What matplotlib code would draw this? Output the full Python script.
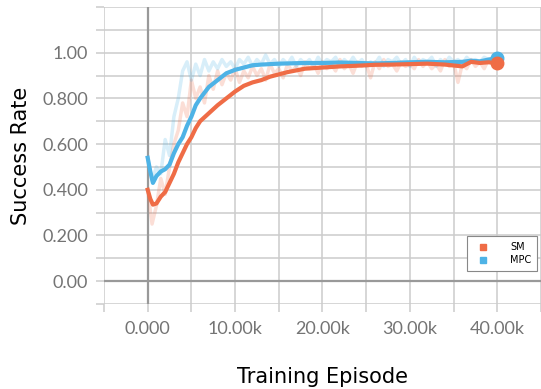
import numpy as np
import matplotlib.pyplot as plt
from matplotlib.lines import Line2D

# data (episodes in thousands)
raw_x = np.arange(0, 40.5, 0.5)
mpc_raw = [0.54, 0.44, 0.50, 0.47, 0.62, 0.55, 0.72, 0.80, 0.92, 0.96,
           0.88, 0.95, 0.90, 0.97, 0.92, 0.96, 0.93, 0.97, 0.94, 0.96,
           0.93, 0.97, 0.95, 0.98, 0.94, 0.97, 0.95, 0.99, 0.95, 0.97,
           0.94, 0.97, 0.95, 0.98, 0.94, 0.97, 0.95, 0.97, 0.94, 0.98,
           0.95, 0.97, 0.96, 0.98, 0.94, 0.97, 0.95, 0.98, 0.95, 0.97,
           0.94, 0.96, 0.95, 0.98, 0.94, 0.97, 0.96, 0.98, 0.95, 0.97,
           0.94, 0.98, 0.95, 0.97, 0.96, 0.98, 0.94, 0.97, 0.95, 0.98,
           0.96, 0.97, 0.95, 0.98, 0.96, 0.97, 0.96, 0.98, 0.97, 0.98, 0.98]
sm_raw = [0.40, 0.25, 0.33, 0.45, 0.38, 0.50, 0.60, 0.66, 0.78, 0.72,
          0.88, 0.80, 0.85, 0.78, 0.90, 0.84, 0.92, 0.86, 0.91, 0.88,
          0.93, 0.87, 0.92, 0.89, 0.94, 0.90, 0.93, 0.88, 0.95, 0.91,
          0.93, 0.89, 0.95, 0.92, 0.94, 0.90, 0.96, 0.93, 0.95, 0.91,
          0.96, 0.93, 0.95, 0.92, 0.97, 0.93, 0.95, 0.91, 0.96, 0.94,
          0.95, 0.89, 0.96, 0.93, 0.97, 0.94, 0.95, 0.92, 0.96, 0.94,
          0.95, 0.93, 0.97, 0.94, 0.96, 0.93, 0.95, 0.92, 0.97, 0.94,
          0.96, 0.87, 0.95, 0.93, 0.97, 0.94, 0.96, 0.93, 0.97, 0.95, 0.96]

smooth_x = [0, 0.3, 0.6, 1.0, 1.5, 2.0, 2.5, 3.0, 3.5, 4.0, 4.5, 5.0, 5.5,
            6.0, 7.0, 8.0, 9.0, 10.0, 11.0, 12.0, 13.0, 14.0, 15.0, 16.0,
            18.0, 20.0, 22.0, 24.0, 26.0, 28.0, 30.0, 32.0, 34.0, 36.0,
            37.0, 38.0, 39.0, 40.0]
mpc_smooth = [0.54, 0.48, 0.43, 0.46, 0.48, 0.49, 0.51, 0.56, 0.60, 0.63,
              0.68, 0.72, 0.77, 0.80, 0.85, 0.88, 0.91, 0.925, 0.935, 0.945,
              0.948, 0.95, 0.952, 0.953, 0.955, 0.955, 0.957, 0.955, 0.953,
              0.955, 0.958, 0.96, 0.958, 0.96, 0.965, 0.962, 0.97, 0.975]
sm_smooth = [0.40, 0.36, 0.335, 0.34, 0.37, 0.39, 0.43, 0.47, 0.52, 0.56,
             0.60, 0.63, 0.67, 0.70, 0.735, 0.77, 0.80, 0.83, 0.855, 0.87,
             0.88, 0.895, 0.905, 0.915, 0.93, 0.935, 0.94, 0.943, 0.947,
             0.948, 0.95, 0.952, 0.948, 0.94, 0.96, 0.955, 0.958, 0.955]

yticks = [0.0, 0.2, 0.4, 0.6, 0.8, 1.0]
ylabels = ['0.00', '0.200', '0.400', '0.600', '0.800', '1.00']
xticks = [0, 10, 20, 30, 40]
xlabels = ['0.000', '10.00k', '20.00k', '30.00k', '40.00k']

sm_color = '#EF6C46'
mpc_color = '#4EB3E6'
grid_c = '#cccccc'

fig = plt.figure(figsize=(5.41, 3.89), dpi=100)
ax = fig.add_axes([0.1922, 0.2185, 0.8078, 0.7635])

ax.plot(raw_x, sm_raw, color=sm_color, alpha=0.22, lw=2.5)
ax.plot(raw_x, mpc_raw, color=mpc_color, alpha=0.22, lw=2.5)
ax.plot(smooth_x, mpc_smooth, color=mpc_color, lw=3)
ax.plot(smooth_x, sm_smooth, color=sm_color, lw=3)
ax.plot(smooth_x[-1], mpc_smooth[-1], 'o', color=mpc_color, ms=9)
ax.plot(smooth_x[-1], sm_smooth[-1], 'o', color=sm_color, ms=9)

ax.axvline(0, color='#999999', lw=1.6, zorder=1)
ax.axhline(0, color='#999999', lw=1.6, zorder=1)

ax.set_xlim(-5, 45)
ax.set_ylim(-0.1, 1.2)
ax.set_xticks(xticks)
ax.set_xticklabels(xlabels)
ax.set_xticks([-5, 5, 15, 25, 35, 45], minor=True)
ax.set_yticks(yticks)
ax.set_yticklabels(ylabels)
ax.set_yticks([-0.1, 0.1, 0.3, 0.5, 0.7, 0.9, 1.1, 1.2], minor=True)
ax.grid(True, which='both', color=grid_c, lw=1.1, zorder=0)
ax.set_axisbelow(True)
for s in ax.spines.values():
    s.set_visible(False)
ax.tick_params(which='both', length=5.5, width=1.1, color=grid_c, direction='out')
ax.tick_params(axis='y', pad=6, labelsize=13, labelcolor='#747474')
ax.tick_params(axis='x', pad=7, labelsize=13, labelcolor='#747474')
for t in ax.get_xticklabels() + ax.get_yticklabels():
    t.set_fontfamily('Lato')

ax.set_xlabel('Training Episode', fontsize=15, labelpad=21, fontfamily='DejaVu Sans')
ax.set_ylabel('Success Rate', fontsize=15, labelpad=8, fontfamily='DejaVu Sans')

handles = [Line2D([], [], ls='', marker='s', ms=5, color=sm_color),
           Line2D([], [], ls='', marker='s', ms=5, color=mpc_color)]
leg = ax.legend(handles, ['SM', 'MPC'], loc='lower right', bbox_to_anchor=(0.991, 0.111),
                fontsize=7, fancybox=False, framealpha=1, edgecolor='#888888',
                borderpad=0.6, handletextpad=1.8, labelspacing=0.3, borderaxespad=0)
leg.get_frame().set_linewidth(0.8)

fig.savefig('out.png', dpi=100)
